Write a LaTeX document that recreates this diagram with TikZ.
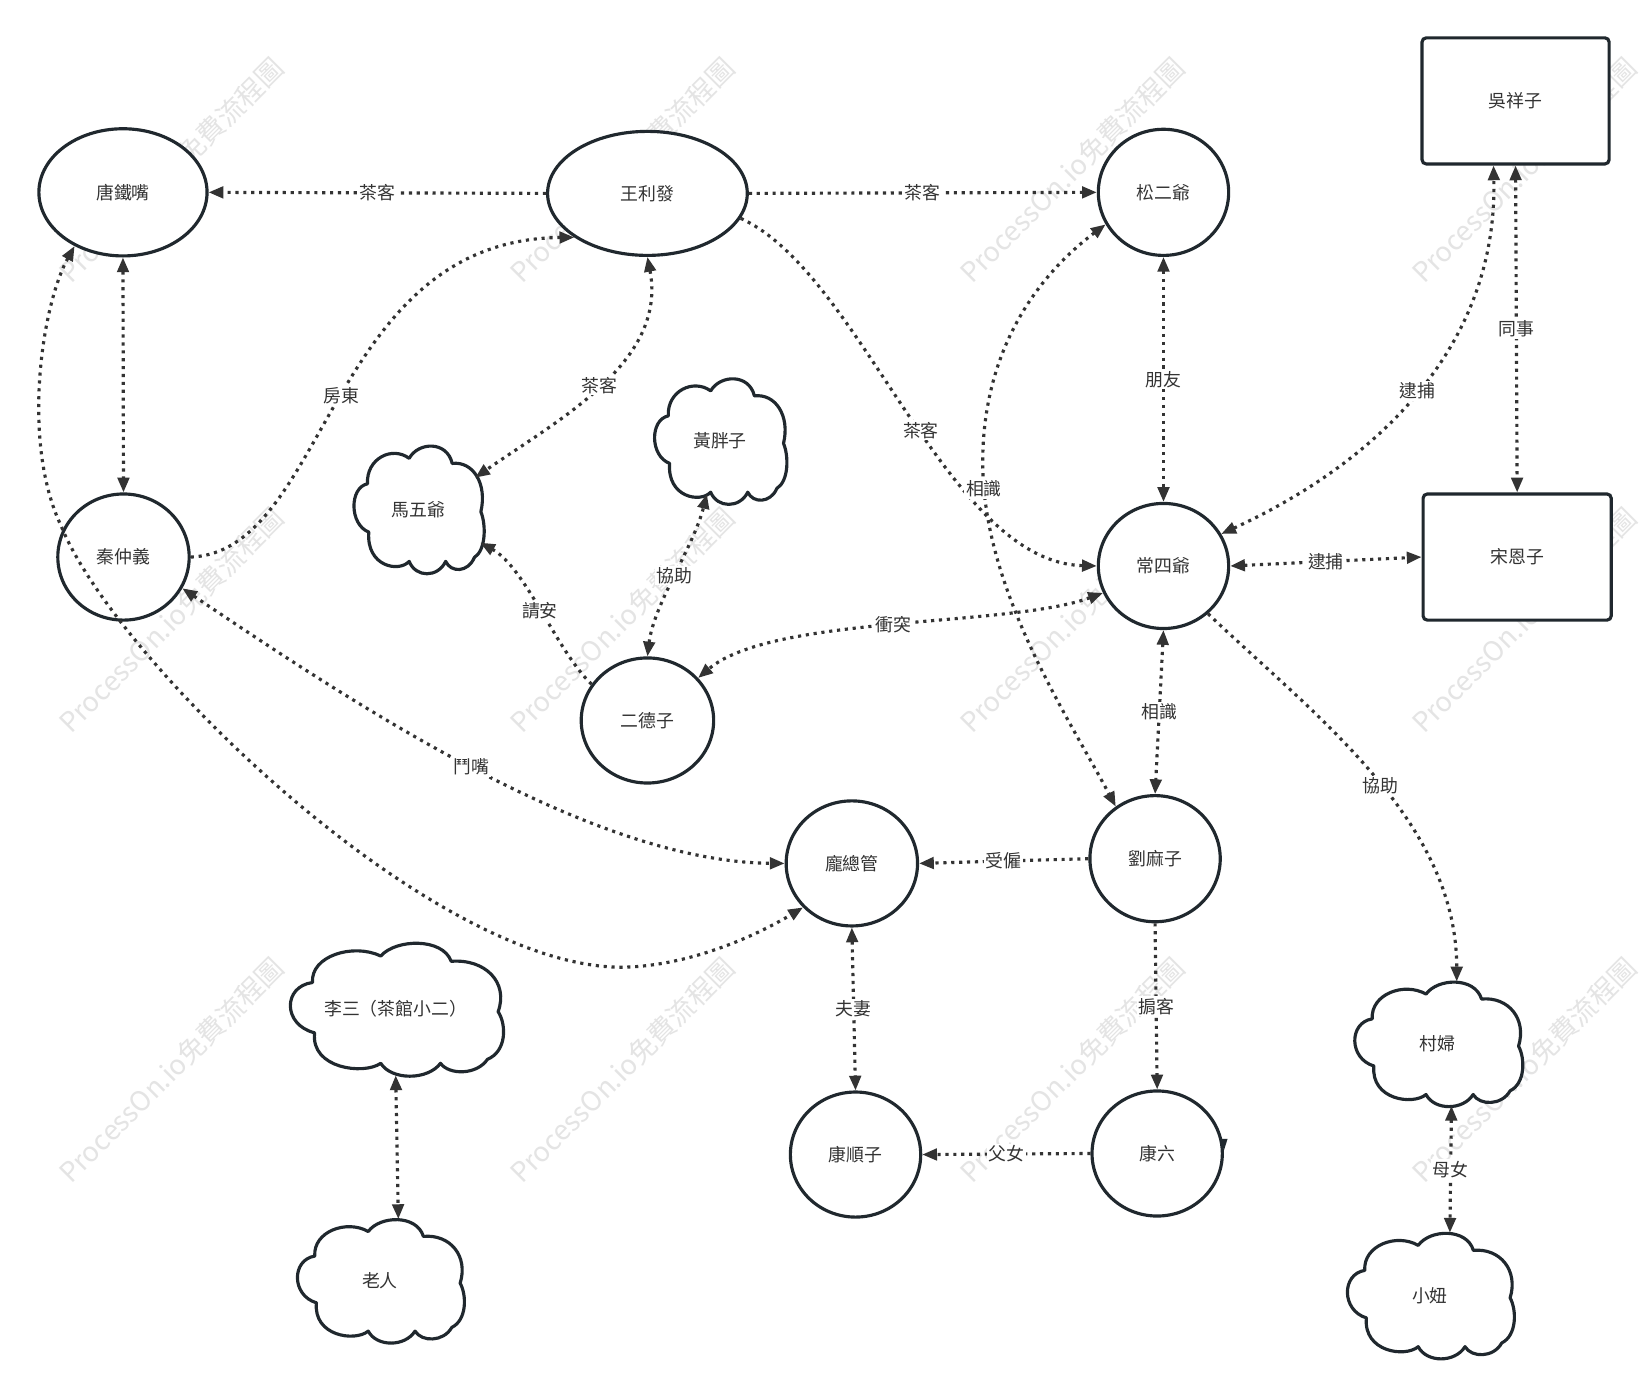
\documentclass[tikz,border=0pt]{standalone}
\usepackage{fontspec}
\setmainfont{Noto Sans CJK TC}
\usetikzlibrary{arrows.meta,shapes.geometric}
\definecolor{ink}{HTML}{20282E}
\definecolor{txt}{HTML}{333333}
\definecolor{wm}{HTML}{E4E4E4}
\newcommand\drawcloud[4]{%
  \begin{scope}[shift={(#1,#2)},xscale=#3,yscale=#4]
   \filldraw[fill=white,draw=ink,line width=3pt,line join=round]
   (0.11,0.30) .. controls (0.10,0.10) and (0.30,0.00) .. (0.43,0.10)
   .. controls (0.50,-0.03) and (0.72,-0.04) .. (0.76,0.14)
   .. controls (0.92,0.12) and (1.03,0.30) .. (0.98,0.52)
   .. controls (1.02,0.62) and (1.02,0.82) .. (0.93,0.88)
   .. controls (0.88,1.00) and (0.75,1.00) .. (0.71,0.91)
   .. controls (0.65,1.04) and (0.48,1.04) .. (0.43,0.91)
   .. controls (0.35,1.00) and (0.10,0.95) .. (0.12,0.68)
   .. controls (-0.03,0.62) and (-0.03,0.33) .. (0.11,0.30) -- cycle;
  \end{scope}}
\tikzset{
  ell/.style={ellipse, draw=ink, line width=3pt, fill=white, inner sep=0pt, text=txt, font=\fontsize{17}{20}\selectfont},
  rbox/.style={rectangle, rounded corners=4pt, draw=ink, line width=3pt, fill=white, inner sep=0pt, text=txt, font=\fontsize{17}{20}\selectfont},
  cloudnode/.style={ellipse, draw=none, inner sep=0pt, text=txt, font=\fontsize{17}{20}\selectfont},
  rel/.style={draw=txt, line width=3pt, dash pattern=on 3pt off 4.5pt, >={Triangle[length=14pt,width=11pt]}},
  lbl/.style={fill=white, inner sep=1.5pt, text=txt, font=\fontsize{17}{20}\selectfont, midway, solid},
  wmark/.style={text=wm, rotate=45, font=\fontsize{26}{30}\selectfont, inner sep=0pt},
}
\begin{document}
\begin{tikzpicture}[x=1pt,y=-1pt]
\fill[white] (0,0) rectangle (1568,1327);
\useasboundingbox (0,0) rectangle (1568,1327);
% watermarks
\foreach \wx in {163,592,1020,1450}{
  \foreach \wy in {162,590,1018}{
    \node[wmark] (wm-\wx-\wy) at (\wx,\wy) {ProcessOn.io免費流程圖};
  }
}
% nodes
\node[ell, minimum width=160pt, minimum height=121pt] (tdz) at (117,183) {唐鐵嘴};
\node[ell, minimum width=190pt, minimum height=118pt] (wlf) at (616,184) {王利發};
\node[ell, minimum width=124pt, minimum height=120pt] (se) at (1107,183) {松二爺};
\node[rbox, minimum width=178pt, minimum height=120pt] (wxz) at (1442,96) {吳祥子};
\node[rbox, minimum width=179pt, minimum height=120pt] (sez) at (1443.5,530) {宋恩子};
\node[ell, minimum width=124pt, minimum height=119pt] (csy) at (1107,538.5) {常四爺};
\node[ell, minimum width=125pt, minimum height=120pt] (qzy) at (117.5,530) {秦仲義};
\drawcloud{336}{424}{124}{121}
\node[cloudnode, minimum width=124pt, minimum height=121pt] (mwy) at (398,484.5) {馬五爺};
\drawcloud{622}{360}{126}{119}
\node[cloudnode, minimum width=126pt, minimum height=119pt] (hpz) at (685,419.5) {黃胖子};
\node[ell, minimum width=126pt, minimum height=119pt] (edz) at (616,685.5) {二德子};
\node[ell, minimum width=125pt, minimum height=119pt] (pzg) at (810.5,821.5) {龐總管};
\node[ell, minimum width=124pt, minimum height=120pt] (lmz) at (1099,817) {劉麻子};
\drawcloud{275}{897}{203}{126}
\node[cloudnode, minimum width=203pt, minimum height=126pt] (ls) at (376.5,960) {李三（茶館小二）};
\drawcloud{282}{1160}{159}{117}
\node[cloudnode, minimum width=159pt, minimum height=117pt] (lr) at (361.5,1218.5) {老人};
\node[ell, minimum width=124pt, minimum height=119pt] (ksz) at (814,1098.5) {康順子};
\node[ell, minimum width=124pt, minimum height=119pt] (kl) at (1101,1097.5) {康六};
\fill[ink] ([xshift=-3.5pt,yshift=14pt]kl.east) -- ([xshift=3.5pt,yshift=14pt]kl.east) -- ([yshift=3pt]kl.east) -- cycle;
\drawcloud{1288}{934}{160}{118}
\node[cloudnode, minimum width=160pt, minimum height=118pt] (cf) at (1368,993) {村婦};
\drawcloud{1281}{1173}{159}{119}
\node[cloudnode, minimum width=159pt, minimum height=119pt] (xn) at (1360.5,1232.5) {小妞};
% connectors
\draw[rel,->] (wlf.west) -- node[lbl]{茶客} (tdz.east);
\draw[rel,->] (wlf.east) -- node[lbl]{茶客} (se.west);
\draw[rel,<->] (tdz.south) -- (qzy.north);
\draw[rel,->] (qzy.east) .. controls (312,525) and (312,228) .. (wlf.211) node[lbl]{房東};
\draw[rel,<->] (wlf.south) .. controls (635,345) and (530,400) .. (mwy.29) node[lbl]{茶客};
\draw[rel,->] (wlf.-15) .. controls (820,260) and (900,535) .. (csy.west) node[lbl,pos=0.54]{茶客};
\draw[rel,<->] (se.209) .. controls (990,260) and (935,330) .. (935,440) .. controls (935,560) and (1015,680) .. (lmz.127) node[lbl,pos=0.07]{相識};
\draw[rel,<->] (se.south) -- node[lbl]{朋友} (csy.north);
\draw[rel,<->] (csy.29) .. controls (1310,440) and (1425,330) .. ([xshift=-21pt]wxz.south) node[lbl]{逮捕};
\draw[rel,<->] (wxz.south) -- node[lbl]{同事} (sez.north);
\draw[rel,<->] (csy.east) -- node[lbl]{逮捕} (sez.west);
\draw[rel,<->] (csy.204) .. controls (960,597) and (735,585) .. (edz.40) node[lbl]{衝突};
\draw[rel,<->] (edz.north) .. controls (622,575) and (660,520) .. ([yshift=8pt]hpz.258) node[lbl]{協助};
\draw[rel,->] (edz.147) .. controls (530,620) and (500,540) .. ([xshift=6pt]mwy.-31) node[lbl]{請安};
\draw[rel,<->] (csy.south) -- node[lbl]{相識} (lmz.north);
\draw[rel,->] (csy.-47) .. controls (1250,680) and (1386,780) .. ([xshift=18pt]cf.north) node[lbl,pos=0.53]{協助};
\draw[rel,<->] (qzy.-28) .. controls (330,665) and (560,820) .. (pzg.west) node[lbl]{鬥嘴};
\draw[rel,<->] (tdz.228) .. controls (40,290) and (20,420) .. (58,500) .. controls (110,630) and (420,930) .. (600,920) .. controls (660,917) and (720,890) .. (pzg.222);
\draw[rel,->] (lmz.west) -- node[lbl]{受僱} (pzg.east);
\draw[rel,<->] (pzg.south) -- node[lbl]{夫妻} (ksz.north);
\draw[rel,->] (lmz.south) -- node[lbl]{掮客} (kl.north);
\draw[rel,->] (kl.west) -- node[lbl]{父女} (ksz.east);
\draw[rel,<->] ([xshift=13pt]cf.south) -- node[lbl]{母女} ([xshift=19pt]xn.north);
\draw[rel,<->] (ls.south) -- ([xshift=17.5pt]lr.north);
\end{tikzpicture}
\end{document}
